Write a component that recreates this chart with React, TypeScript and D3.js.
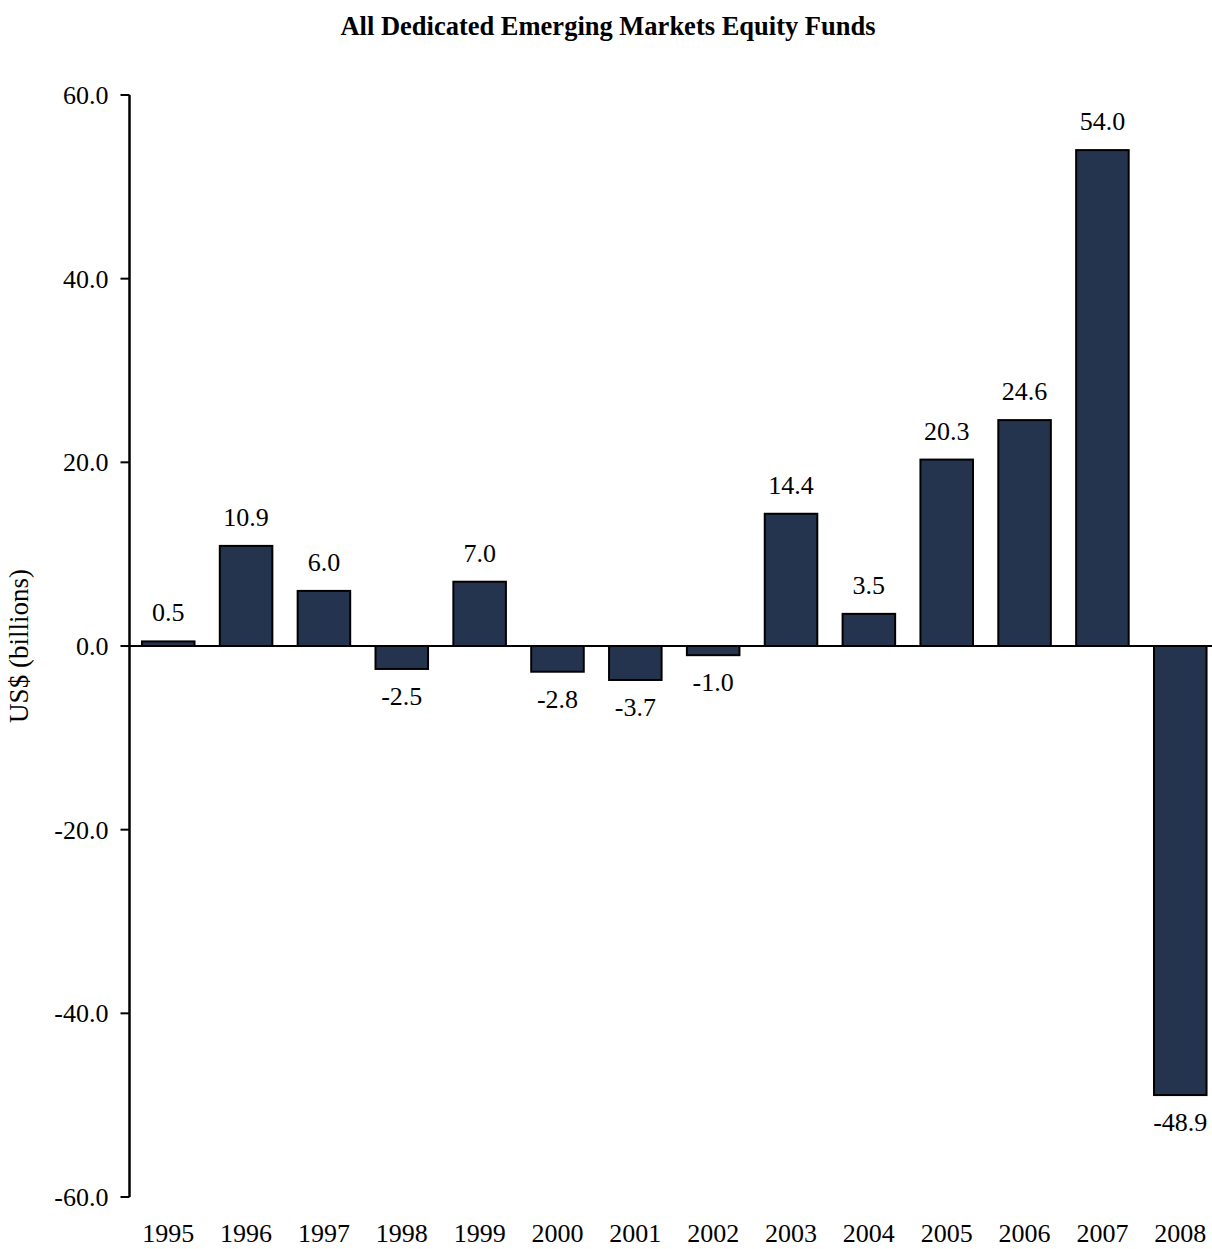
import React from "react";
import * as d3 from "d3";

const years = ["1995","1996","1997","1998","1999","2000","2001","2002","2003","2004","2005","2006","2007","2008"];
const flows = [0.5, 10.9, 6.0, -2.5, 7.0, -2.8, -3.7, -1.0, 14.4, 3.5, 20.3, 24.6, 54.0, -48.9];
const yTicks = [-60, -40, -20, 0, 20, 40, 60];
const title = "All Dedicated Emerging Markets Equity Funds";
const yLabel = "US$ (billions)";

const W = 1212;
const H = 1249;
const axisX = 129.5;
const FONT = "'Liberation Serif', 'Times New Roman', serif";

// one decimal, plain hyphen for negatives
const fmt = (v: number) => d3.format(".1f")(v).replace("\u2212", "-");

export default function App() {
  const x = d3.scaleBand<string>()
    .domain(years)
    .range([axisX, 1219])
    .paddingInner(0.325)
    .paddingOuter(0.16);
  const y = d3.scaleLinear().domain([-60, 60]).range([1197, 95]);

  return (
    <svg width={W} height={H} style={{ position: "absolute", left: 0, top: 0, background: "#fff" }}
      fontFamily={FONT}>
      <text x={608} y={35} textAnchor="middle" fontWeight="bold" fontSize={26.5}>{title}</text>

      <text transform={`translate(28,${y(0)}) rotate(-90)`} textAnchor="middle" fontSize={27}>{yLabel}</text>

      {/* bars */}
      {years.map((yr, i) => {
        const v = flows[i];
        const top = y(Math.max(0, v));
        const bot = y(Math.min(0, v));
        return (
          <rect key={yr} x={x(yr)} y={top} width={x.bandwidth()} height={bot - top}
            fill="#24344f" stroke="#000" strokeWidth={2} />
        );
      })}

      {/* value labels */}
      {years.map((yr, i) => {
        const v = flows[i];
        const cx = (x(yr) as number) + x.bandwidth() / 2;
        const ly = v >= 0 ? y(v) - 20 : y(v) + 36;
        return (
          <text key={yr} x={cx} y={ly} textAnchor="middle" fontSize={26}>{fmt(v)}</text>
        );
      })}

      {/* zero line */}
      <line x1={axisX} x2={W} y1={y(0)} y2={y(0)} stroke="#000" strokeWidth={2} />

      {/* y axis */}
      <line x1={axisX} x2={axisX} y1={y(60)} y2={y(-60)} stroke="#000" strokeWidth={2.5} />
      {yTicks.map(t => (
        <g key={t}>
          <line x1={axisX - 9} x2={axisX} y1={y(t)} y2={y(t)} stroke="#000" strokeWidth={2} />
          <text x={axisX - 21} y={y(t) + 9} textAnchor="end" fontSize={26}>{fmt(t)}</text>
        </g>
      ))}

      {/* year labels */}
      {years.map(yr => (
        <text key={yr} x={(x(yr) as number) + x.bandwidth() / 2} y={1242} textAnchor="middle" fontSize={26}>{yr}</text>
      ))}
    </svg>
  );
}
